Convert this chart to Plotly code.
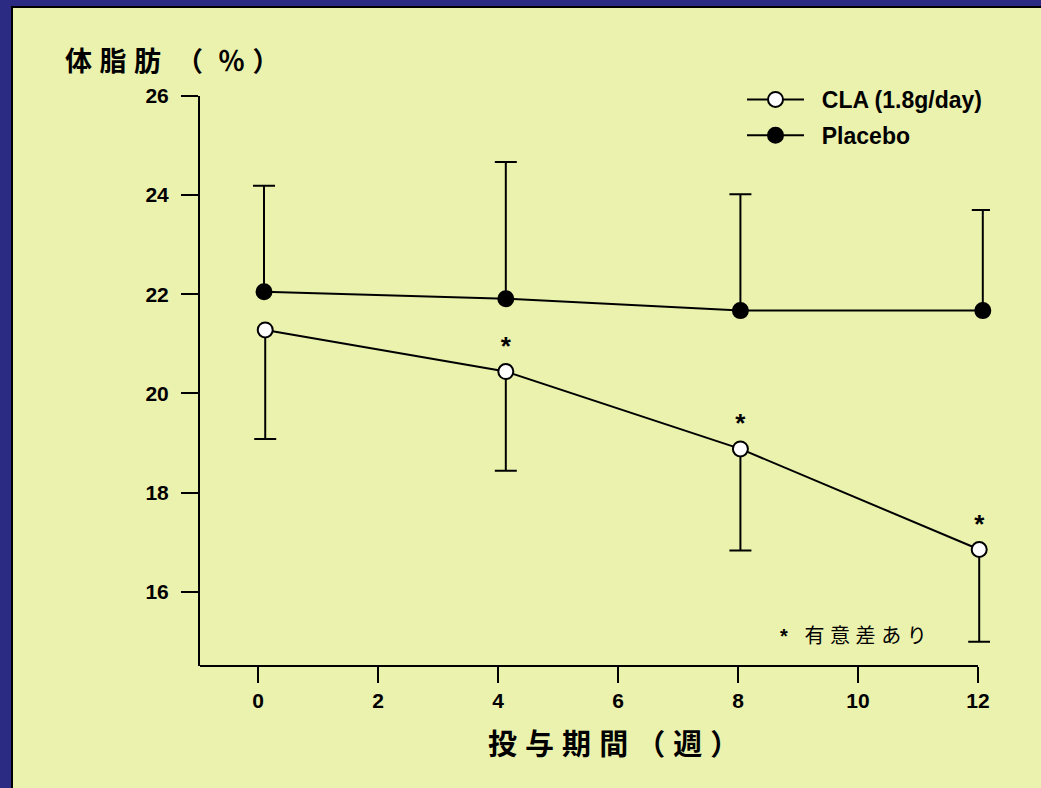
import plotly.graph_objects as go

# ---- data ----
placebo_x = [0.10, 4.13, 8.04, 12.08]
placebo_y = [22.05, 21.91, 21.67, 21.67]
placebo_sd = [2.14, 2.76, 2.35, 2.03]

cla_x = [0.12, 4.13, 8.04, 12.02]
cla_y = [21.28, 20.44, 18.88, 16.85]
cla_sd = [2.20, 2.00, 2.05, 1.86]
cla_sig = ["", "*", "*", "*"]

x_ticks = [0, 2, 4, 6, 8, 10, 12]
y_ticks = [16, 18, 20, 22, 24, 26]

YELLOW = "#EBF2AD"
BLUE = "#2C2B84"
FONT = "Liberation Sans, Arial, Noto Sans CJK JP, sans-serif"

W, H = 1041, 788
X_RANGE = [-0.967, 12.2]
X_AXIS_END = 12
Y_RANGE = [14.5, 26]
L, R, T, B = 200, 51, 96, 122
PW, PH = W - L - R, H - T - B


def px(x):
    return (x - L) / PW


def py(y):
    return (H - B - y) / PH


zeros = [0] * 4
invisible = dict(size=1, color="rgba(0,0,0,0)")

fig = go.Figure()

# error bar stems (no caps), one-sided
fig.add_trace(go.Scatter(
    x=cla_x, y=cla_y, mode="markers", marker=invisible, showlegend=False,
    hoverinfo="skip", cliponaxis=False,
    error_y=dict(type="data", symmetric=False, array=zeros, arrayminus=cla_sd,
                 color="black", thickness=2, width=0),
))
fig.add_trace(go.Scatter(
    x=placebo_x, y=placebo_y, mode="markers", marker=invisible, showlegend=False,
    hoverinfo="skip", cliponaxis=False,
    error_y=dict(type="data", symmetric=False, array=placebo_sd, arrayminus=zeros,
                 color="black", thickness=2, width=0),
))
# caps at the far ends only
fig.add_trace(go.Scatter(
    x=cla_x, y=[m - s for m, s in zip(cla_y, cla_sd)], mode="markers",
    marker=invisible, showlegend=False, hoverinfo="skip", cliponaxis=False,
    error_y=dict(type="data", array=zeros, color="black", thickness=2, width=11),
))
fig.add_trace(go.Scatter(
    x=placebo_x, y=[m + s for m, s in zip(placebo_y, placebo_sd)], mode="markers",
    marker=invisible, showlegend=False, hoverinfo="skip", cliponaxis=False,
    error_y=dict(type="data", array=zeros, color="black", thickness=2, width=11),
))

fig.add_trace(go.Scatter(
    x=cla_x, y=cla_y, name="\u00a0\u00a0CLA (1.8g/day)", legendgroup="cla",
    mode="lines+markers+text",
    text=cla_sig, textposition="top center",
    textfont=dict(family=FONT, size=26, color="black", weight="bold"),
    line=dict(color="black", width=2),
    marker=dict(symbol="circle", size=15, color="white",
                line=dict(color="black", width=2)),
    cliponaxis=False,
))

fig.add_trace(go.Scatter(
    x=placebo_x, y=placebo_y, name="\u00a0\u00a0Placebo", legendgroup="placebo",
    mode="lines+markers",
    line=dict(color="black", width=2),
    marker=dict(symbol="circle", size=15, color="black",
                line=dict(color="black", width=2)),
    cliponaxis=False,
))

tick_font = dict(family=FONT, size=21, color="black", weight="bold")
fig.update_xaxes(range=X_RANGE, tickvals=x_ticks, showgrid=False, zeroline=False,
                 showline=False, ticks="outside", tickcolor="black", tickwidth=2,
                 ticklen=16, tickfont=tick_font)
fig.update_yaxes(range=Y_RANGE, tickvals=y_ticks, showgrid=False, zeroline=False,
                 showline=True, linecolor="black", linewidth=2,
                 ticks="outside", tickcolor="black", tickwidth=2,
                 ticklen=17, tickfont=tick_font, ticklabelstandoff=8)

x_axis_end_frac = (X_AXIS_END - X_RANGE[0]) / (X_RANGE[1] - X_RANGE[0])

fig.update_layout(
    width=W, height=H,
    margin=dict(l=L, r=R, t=T, b=B, autoexpand=False),
    paper_bgcolor=BLUE, plot_bgcolor="rgba(0,0,0,0)",
    showlegend=True,
    legend=dict(x=px(742), y=py(78), xanchor="left", yanchor="top",
                bgcolor="rgba(0,0,0,0)",
                font=dict(family=FONT, size=23, color="black", weight="bold"),
                itemwidth=57, tracegroupgap=3),
    shapes=[
        dict(type="rect", xref="paper", yref="paper", layer="below",
             x0=px(12), x1=px(W + 10), y0=py(7), y1=py(H + 10),
             fillcolor=YELLOW, line=dict(color="black", width=2)),
        dict(type="line", xref="paper", yref="paper", layer="above",
             x0=0, x1=x_axis_end_frac, y0=0, y1=0,
             line=dict(color="black", width=2)),
    ],
    annotations=[
        dict(text="体\u00a0脂\u00a0肪\u00a0\u00a0（\u00a0\u00a0％\u00a0）", xref="paper", yref="paper",
             x=px(63), y=py(62), xanchor="left", yanchor="middle", showarrow=False,
             font=dict(family=FONT, size=27, color="black", weight="bold")),
        dict(text="投\u00a0与\u00a0期\u00a0間\u00a0（\u00a0週\u00a0）", xref="paper", yref="paper",
             x=px(613), y=py(745), xanchor="center", yanchor="middle", showarrow=False,
             font=dict(family=FONT, size=29, color="black", weight="bold")),
        dict(text="<b>*</b>\u00a0\u00a0\u00a0有\u00a0意\u00a0差\u00a0あ\u00a0り", xref="paper", yref="paper",
             x=px(778), y=py(636), xanchor="left", yanchor="middle", showarrow=False,
             font=dict(family=FONT, size=20, color="black")),
    ],
)

fig.write_html(
    "out.html",
    config={"displayModeBar": False},
    post_script="document.body.style.margin='0';document.body.style.overflow='hidden';",
)
